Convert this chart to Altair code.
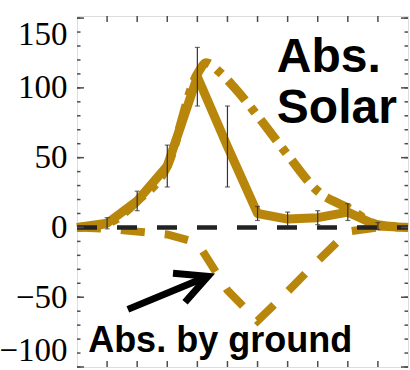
import altair as alt
import pandas as pd

# Seasonal cycle (x = month index 0..11)
months = list(range(12))
abs_solar = [0, 3, 19, 44, 108, 58, 10, 6, 7, 11, 1, 0]
abs_solar_err = [0, 4, 7, 15, 21, 29, 5, 5, 5, 6, 2.5, 0]

model_x = [0, 1, 2, 3, 4, 4.3, 4.7, 5.2, 6, 7, 8, 9, 10, 11]
model_solar = [0, 3, 19, 44, 110, 118, 112, 101, 80, 52, 26, 14, 2, 0]

abs_ground = [0, -1, -3, -5, -11, -45, -67, -46, -24, -3, 0, 0]

y_labels = [-100, -50, 0, 50, 100, 150]
y_major = list(range(-100, 151, 50))
y_minor = list(range(-100, 151, 10))
x_ticks = list(range(1, 11))

GOLD = "#B8860B"
FRAME = "#4d4d4d"
W, H = 331, 351

x_scale = alt.Scale(domain=[0, 11], nice=False, zero=False)
y_scale = alt.Scale(domain=[-100, 151.5], nice=False, zero=False)
y_axis = alt.Axis(values=y_labels, ticks=False, domain=False, grid=False,
                  title=None, labelFont="Liberation Serif",
                  labelFontSize=33, labelFontWeight="normal",
                  labelColor="black", labelPadding=10, labelFlush=6)


def xq(field):
    return alt.X(field, type="quantitative", scale=x_scale, axis=None)


def yq(field):
    return alt.Y(field, type="quantitative", scale=y_scale, axis=y_axis)


obs = pd.DataFrame({"m": months, "v": abs_solar, "e": abs_solar_err})
obs["lo"] = obs["v"] - obs["e"]
obs["hi"] = obs["v"] + obs["e"]
bars = obs[obs["e"] > 0]
model = pd.DataFrame({"m": model_x, "v": model_solar})
ground = pd.DataFrame({"m": months, "v": abs_ground})

ground_line = alt.Chart(ground).mark_line(
    color=GOLD, strokeWidth=8, strokeDash=[24, 20], strokeCap="butt"
).encode(x=xq("m"), y=yq("v"))

model_line = alt.Chart(model).mark_line(
    color=GOLD, strokeWidth=9, strokeDash=[26, 9, 7, 9], strokeCap="butt",
    interpolate="monotone"
).encode(x=xq("m"), y=yq("v"))

solar_line = alt.Chart(obs).mark_line(
    color=GOLD, strokeWidth=9, strokeJoin="round"
).encode(x=xq("m"), y=yq("v"))

zero_df = pd.DataFrame({"m": [0], "m2": [11], "v": [0]})
zero_line = alt.Chart(zero_df).mark_rule(
    color="#222222", strokeWidth=4.5, strokeDash=[20, 20]
).encode(x=xq("m"), x2="m2", y=yq("v"))

err_rule = alt.Chart(bars).mark_rule(color="#333333", strokeWidth=1.2).encode(
    x=xq("m"), y=yq("lo"), y2="hi"
)
err_lo = alt.Chart(bars).mark_tick(
    color="#333333", thickness=1.2, size=5, orient="horizontal"
).encode(x=xq("m"), y=yq("lo"))
err_hi = alt.Chart(bars).mark_tick(
    color="#333333", thickness=1.2, size=5, orient="horizontal"
).encode(x=xq("m"), y=yq("hi"))

# inward-pointing frame ticks
ymin_df = pd.DataFrame({"v": y_minor})
ymaj_df = pd.DataFrame({"v": y_major})
xt_df = pd.DataFrame({"m": x_ticks})
tick_style = dict(color=FRAME, strokeWidth=1.5)
left_minor = alt.Chart(ymin_df).mark_rule(**tick_style).encode(
    x=alt.value(0), x2=alt.value(3.5), y=yq("v"))
left_major = alt.Chart(ymaj_df).mark_rule(**tick_style).encode(
    x=alt.value(0), x2=alt.value(7), y=yq("v"))
right_minor = alt.Chart(ymin_df).mark_rule(**tick_style).encode(
    x=alt.value(W), x2=alt.value(W - 3.5), y=yq("v"))
right_major = alt.Chart(ymaj_df).mark_rule(**tick_style).encode(
    x=alt.value(W), x2=alt.value(W - 7), y=yq("v"))
top_ticks = alt.Chart(xt_df).mark_rule(**tick_style).encode(
    x=xq("m"), y=alt.value(0), y2=alt.value(6))
bottom_ticks = alt.Chart(xt_df).mark_rule(**tick_style).encode(
    x=xq("m"), y=alt.value(H), y2=alt.value(H - 6))

# annotations
text_style = dict(font="Liberation Sans", fontWeight="bold", color="black",
                  align="left", baseline="alphabetic")
big_notes = pd.DataFrame({"m": [6.64, 6.64], "v": [111.6, 75],
                          "t": ["Abs.", "Solar"]})
small_note = pd.DataFrame({"m": [0.37], "v": [-89.4], "t": ["Abs. by ground"]})
t_big = alt.Chart(big_notes).mark_text(fontSize=48, **text_style).encode(
    x=xq("m"), y=yq("v"), text="t:N")
t_ground = alt.Chart(small_note).mark_text(fontSize=36, **text_style).encode(
    x=xq("m"), y=yq("v"), text="t:N")

arrow = pd.DataFrame({
    "part": ["shaft", "shaft", "head", "head", "head"],
    "ord": [0, 1, 0, 1, 2],
    "m": [1.69, 4.35, 3.19, 4.35, 3.59],
    "v": [-58.7, -35.0, -32.9, -35.0, -53.6],
})
arrow_line = alt.Chart(arrow).mark_line(
    color="black", strokeWidth=7, strokeCap="butt", strokeJoin="miter"
).encode(x=xq("m"), y=yq("v"), detail="part:N", order="ord:Q")

chart = alt.layer(
    ground_line, model_line, solar_line, zero_line,
    err_rule, err_lo, err_hi,
    left_minor, left_major, right_minor, right_major, top_ticks, bottom_ticks,
    t_big, t_ground, arrow_line,
).properties(
    width=W, height=H,
    autosize=alt.AutoSizeParams(type="none"),
    padding={"left": 77, "top": 16, "right": 2, "bottom": 3},
).configure_view(
    stroke=FRAME, strokeWidth=2
).configure(background="white")

chart.save("out.html", embed_options={"renderer": "svg", "actions": False})
